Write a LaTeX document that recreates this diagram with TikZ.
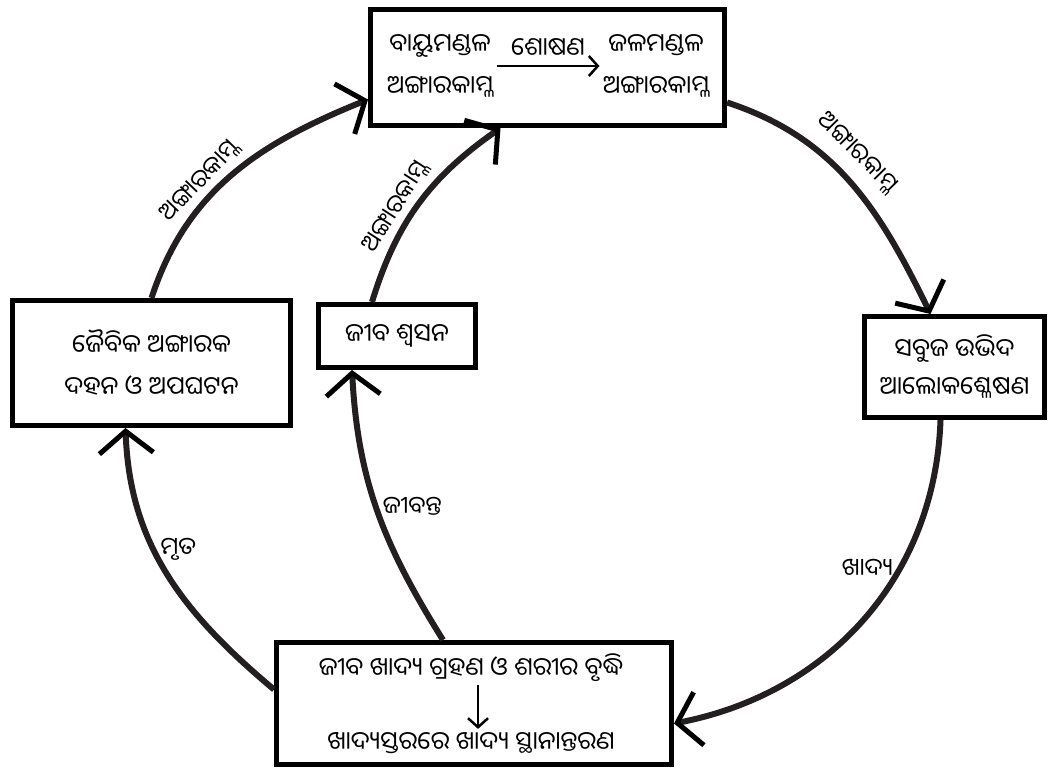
\documentclass[tikz,border=0pt]{standalone}
\usepackage{fontspec}
\setmainfont{Noto Sans Oriya UI}[Script=Oriya]
\usetikzlibrary{arrows.meta}
\definecolor{ink}{HTML}{231F20}

\begin{document}
\begin{tikzpicture}[
  x=1pt, y=1pt,
  font=\fontsize{25}{42}\selectfont,
  box/.style={draw=black, line width=5pt, fill=white, align=center, inner sep=0pt},
  flow/.style={draw=ink, line width=6pt,
               -{Straight Barb[length=22pt, width=54pt, line width=5pt, color=black]}},
  small/.style={line width=2.5pt, -{Straight Barb[length=9pt, width=20pt, line width=2.5pt]}},
  tag/.style={font=\fontsize{24}{26}\selectfont, inner sep=4pt}
]
  \useasboundingbox (0,0) rectangle (1051,771);

  % boxes
  \node[box, minimum width=354pt, minimum height=116pt] (sky) at (547.5,703.5) {};
  \node[box, minimum width=278pt, minimum height=125pt] (burn) at (151.5,408) {ଜୈବିକ ଅଙ୍ଗାରକ\\ଦହନ ଓ ଅପଘଟନ};
  \node[box, minimum width=157pt, minimum height=63pt] (breath) at (397,435) {ଜୀବ ଶ୍ୱସନ};
  \node[box, minimum width=180pt, minimum height=101pt] (plant) at (954.5,404) {ସବୁଜ ଉଭିଦ\\[-4pt]ଆଲୋକଶ୍ଳେଷଣ};
  \node[box, minimum width=395pt, minimum height=122pt] (food) at (474,67.5) {};

  % inside the top box
  \node[align=center] (airco) at (440,705) {ବାୟୁମଣ୍ଡଳ\\ଅଙ୍ଗାରକାମ୍ଳ};
  \node[align=center] (seaco) at (656,705) {ଜଳମଣ୍ଡଳ\\ଅଙ୍ଗାରକାମ୍ଳ};
  \draw[small] (airco.east) -- node[above=4pt] {ଶୋଷଣ} (seaco.west);

  % inside the bottom box
  \node (eat) at (471,103) {ଜୀବ ଖାଦ୍ୟ ଗ୍ରହଣ ଓ ଶରୀର ବୃଦ୍ଧି};
  \node (pass) at (471,28) {ଖାଦ୍ୟସ୍ତରରେ ଖାଦ୍ୟ ସ୍ଥାନାନ୍ତରଣ};
  \draw[small] ([xshift=7pt]eat.south) -- ([xshift=7pt]pass.north);

  % cycle
  \draw[flow] (burn.north) to[out=72, in=202]
    node[tag, sloped, above, pos=0.4] {ଅଙ୍ଗାରକାମ୍ଳ} ([yshift=-32pt]sky.west);
  \draw[flow] ([xshift=-25pt]breath.north) to[out=73, in=215]
    node[tag, sloped, above, pos=0.42] {ଅଙ୍ଗାରକାମ୍ଳ} ([xshift=-47pt]sky.south);
  \draw[flow] ([yshift=-35pt]sky.east) to[out=-18, in=116]
    node[tag, sloped, above=8pt, pos=0.44] {ଅଙ୍ଗାରକାମ୍ଳ} ([xshift=-24pt]plant.north);
  \draw[flow] ([xshift=-14pt]plant.south) to[out=-92, in=11]
    node[tag, left, pos=0.35] {ଖାଦ୍ୟ} ([yshift=-20pt]food.east);
  \draw[flow] ([yshift=14pt]food.west) to[out=140, in=-88]
    node[tag, right, pos=0.6] {ମୃତ} ([xshift=-26pt]burn.south);
  \draw[flow] ([xshift=-31pt]food.north) to[out=122, in=-87]
    node[tag, right, pos=0.52] {ଜୀବନ୍ତ} ([xshift=-45pt]breath.south);
\end{tikzpicture}
\end{document}
